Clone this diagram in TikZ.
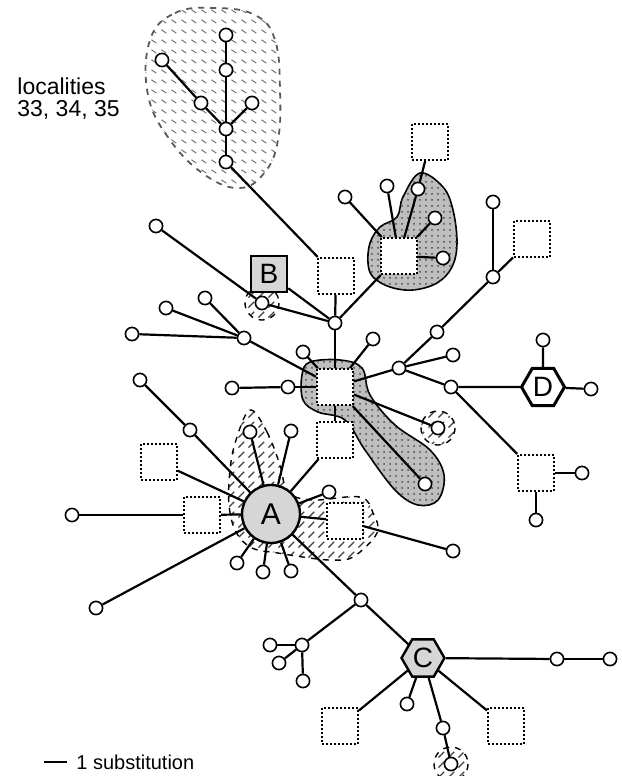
\documentclass[tikz,border=0pt]{standalone}
\usepackage{fontspec}
\setmainfont{Liberation Sans}
\usetikzlibrary{shapes.geometric,patterns}
\definecolor{hubgray}{RGB}{214,214,214}
\definecolor{blobgray}{RGB}{190,190,190}
\pgfdeclarelayer{blobs}
\pgfdeclarelayer{links}
\pgfsetlayers{blobs,links,main}
% wide diagonal hatching and short dash marks
\pgfdeclarepatternformonly{widehatch}{\pgfqpoint{-1pt}{-1pt}}{\pgfqpoint{6pt}{6pt}}{\pgfqpoint{5pt}{5pt}}{%
  \pgfsetlinewidth{0.6pt}\pgfpathmoveto{\pgfqpoint{0pt}{0pt}}\pgfpathlineto{\pgfqpoint{5.1pt}{5.1pt}}\pgfusepath{stroke}}
\pgfdeclarepatternformonly{dashmarks}{\pgfqpoint{0pt}{0pt}}{\pgfqpoint{5pt}{5pt}}{\pgfqpoint{5pt}{5pt}}{%
  \pgfsetlinewidth{0.55pt}\pgfpathmoveto{\pgfqpoint{0.8pt}{3.4pt}}\pgfpathlineto{\pgfqpoint{3.4pt}{1.6pt}}\pgfusepath{stroke}}
\tikzset{
  dot/.style={circle, draw, fill=white, line width=0.8pt, inner sep=0pt, minimum size=6.6pt},
  sqbox/.style={rectangle, draw, densely dotted, line width=1pt, fill=white, inner sep=0pt, minimum size=18pt},
  hubA/.style={circle, draw, fill=hubgray, line width=1.2pt, inner sep=0pt, minimum size=29pt, font=\fontsize{15}{15}\selectfont},
  hubB/.style={rectangle, draw, fill=hubgray, line width=1.3pt, inner sep=0pt, minimum size=18pt, font=\fontsize{14}{14}\selectfont},
  hexhub/.style={regular polygon, regular polygon sides=6, draw, line width=1.2pt, inner sep=0pt, minimum size=21.5pt, font=\fontsize{14}{14}\selectfont},
  link/.style={line width=1.1pt},
  dotblob/.style={draw, line width=0.8pt, fill=blobgray, postaction={pattern=dots, pattern color=gray!60!black}},
  hatchblob/.style={draw, dashed, line width=0.7pt, pattern=widehatch, pattern color=black!75},
  dashblob/.style={draw, dashed, line width=0.9pt, draw=black!65, pattern=dashmarks, pattern color=black!55},
}
\begin{document}
\begin{tikzpicture}[x=0.5pt, y=-0.5pt]
  \useasboundingbox (0,0) rectangle (621,776);

  % hubs
  \node[hubA] (A) at (271,514) {A};
  \node[hubB] (B) at (269,274) {B};
  \node[hexhub, fill=hubgray] (C) at (423,658) {C};
  \node[hexhub, fill=white, line width=1.5pt] (D) at (543,387) {D};

  % dotted squares
  \foreach \n/\x/\y in {q1/336/276, q2/430/142, q3/399/256, q4/335/387, q5/335/440, q6/532/239,
                        q7/536/473, q8/159/462, q9/202/515, q10/345/521, q11/340/726, q12/506/726}
    \node[sqbox] (\n) at (\x,\y) {};

  % small circles
  \foreach \n/\x/\y in {t1/226/35, t2/226/70, t3/162/60, t4/201/103, t5/252/103, t6/226/129, t7/226/162,
                        j1/335/323, bn/262/303, v1/156/226,
                        j2/244/338, w1/166/308, w2/205/298, w3/132/334,
                        u1/418/189, u2/435/218, u3/443/258, u4/387/186, u5/345/197,
                        x1/303/352, x2/232/388, x3/288/387, x4/373/339,
                        j3/399/368, y1/437/332, j4/493/277, y2/493/202, y3/453/355, j5/451/387,
                        d1/543/340, d2/591/389, r1/582/473, r2/536/520, s1/438/428, s2/425/484,
                        a1/140/380, a2/190/430, a3/72/515, a4/96/608, a5/250/432, a6/291/431,
                        a7/329/492, a8/237/563, a9/263/572, a10/291/571, p1/453/551,
                        j6/361/600, j7/302/645, c1/270/645, c2/279/663, c3/303/681,
                        c4/557/659, c5/610/659, c6/407/704, c7/443/728, c8/451/764}
    \node[dot] (\n) at (\x,\y) {};

  % shaded groups
  \begin{pgfonlayer}{blobs}
    \draw[dashblob] plot[smooth cycle, tension=0.7] coordinates
      {(150,40) (175,13) (215,8) (255,15) (275,40) (280,90) (278,140) (265,172) (240,188) (205,175) (170,140) (148,95)};
    \draw[dotblob] plot[smooth cycle, tension=0.6] coordinates
      {(420,173) (443,187) (453,210) (457,243) (452,267) (437,283) (413,290) (390,287) (373,277) (368,263) (370,243) (380,227) (397,217) (403,197)};
    \draw[dotblob] plot[smooth cycle, tension=0.6] coordinates
      {(310,362) (340,360) (362,368) (370,395) (395,425) (430,450) (444,475) (438,500) (418,505) (395,490) (365,450) (345,420) (318,412) (303,400) (302,375)};
    \draw[hatchblob] plot[smooth cycle, tension=0.6] coordinates
      {(250,410) (267,432) (280,465) (288,492) (313,500) (360,497) (373,513) (377,533) (353,557) (330,560) (303,557) (278,553) (252,548) (236,532) (229,505) (230,470) (236,440)};
    \foreach \c in {bn, s1, c8}
      \draw[hatchblob] (\c) circle (17);
  \end{pgfonlayer}

  % connections
  \begin{pgfonlayer}{links}
    \foreach \p/\q in {t1/t2, t2/t6, t3/t4, t4/t6, t5/t6, t6/t7, t7/q1, q1/j1, B/j1, bn/j1, v1/bn,
                       q3/j1, j1/q4, q2/u1, u1/q3, u2/q3, u3/q3, u4/q3, u5/q3,
                       j2/q4, w1/j2, w2/j2, w3/j2, x1/q4, x2/x3, x3/q4, x4/q4,
                       q4/j3, j3/y1, y1/j4, j4/y2, j4/q6, j3/y3, j3/j5, j5/D, D/d1, D/d2,
                       j5/q7, q7/r1, q7/r2, q4/s1, q4/s2, q4/q5, q5/A,
                       A/a7, A/q10, q10/p1, A/a5, A/a6, A/a2, a2/a1, A/q8, A/q9, q9/a3, A/a4,
                       A/a8, A/a9, A/a10, A/j6, j6/j7, j7/c1, j7/c2, j7/c3,
                       j6/C, C/c4, c4/c5, C/q11, C/c6, C/c7, c7/c8, C/q12}
      \draw[link] (\p) -- (\q);
  \end{pgfonlayer}

  % labels
  \node[anchor=north west, align=left, inner sep=0pt, font=\fontsize{11.5}{11.2}\selectfont] (loc) at (17,77) {localities\\33, 34, 35};
  \coordinate (s0) at (44,762);
  \coordinate (s1e) at (67,762);
  \draw[line width=1.1pt] (s0) -- (s1e);
  \node[anchor=west, inner sep=0pt, font=\fontsize{10}{10}\selectfont] (scale) at (76,762) {1 substitution};
\end{tikzpicture}
\end{document}
